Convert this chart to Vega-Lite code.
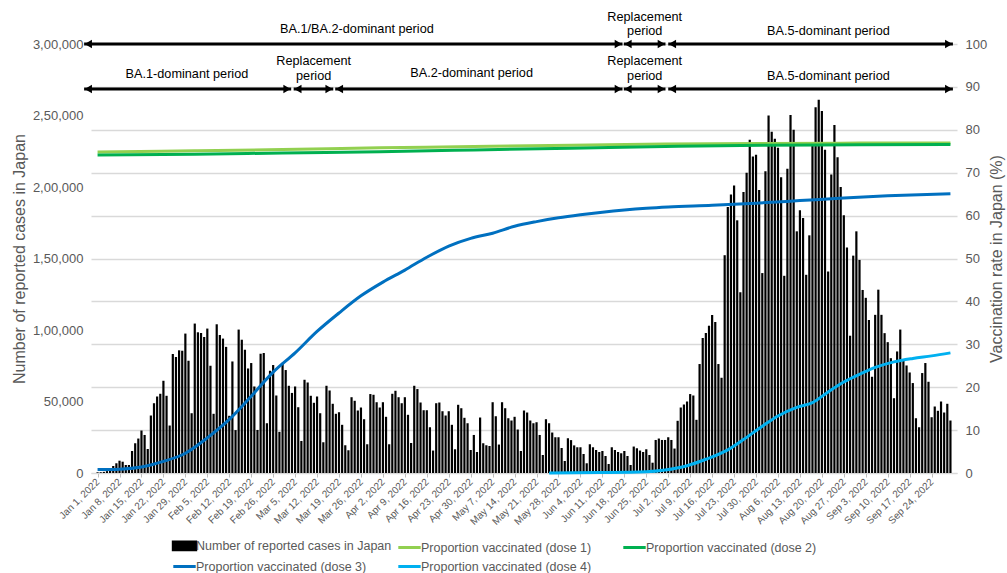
{
  "$schema": "https://vega.github.io/schema/vega-lite/v6.json",
  "width": 866,
  "height": 429,
  "autosize": {"type": "none"},
  "padding": {"left": 91, "top": 44, "right": 50, "bottom": 100},
  "config": {
    "view": {"stroke": null},
    "font": "Liberation Sans",
    "axis": {"labelFont": "Liberation Sans", "titleFont": "Liberation Sans", "titleFontWeight": "normal"},
    "axisX": {"labelOverlap": false},
    "legend": {"labelFont": "Liberation Sans"}
  },
  "datasets": {
    "cases": [
      {"d":"2022-01-01","c":500},{"d":"2022-01-02","c":550},{"d":"2022-01-03","c":800},{"d":"2022-01-04","c":1300},{"d":"2022-01-05","c":2600},{"d":"2022-01-06","c":4900},{"d":"2022-01-07","c":6800},{"d":"2022-01-08","c":8600},{"d":"2022-01-09","c":7900},{"d":"2022-01-10","c":5600},{"d":"2022-01-11","c":5600},{"d":"2022-01-12","c":15400},{"d":"2022-01-13","c":20800},{"d":"2022-01-14","c":24100},{"d":"2022-01-15","c":29700},{"d":"2022-01-16","c":26600},{"d":"2022-01-17","c":16800},{"d":"2022-01-18","c":40200},{"d":"2022-01-19","c":48800},{"d":"2022-01-20","c":53500},{"d":"2022-01-21","c":55400},{"d":"2022-01-22","c":64500},{"d":"2022-01-23","c":54000},{"d":"2022-01-24","c":33200},{"d":"2022-01-25","c":83200},{"d":"2022-01-26","c":81100},{"d":"2022-01-27","c":85800},{"d":"2022-01-28","c":85500},{"d":"2022-01-29","c":97500},{"d":"2022-01-30","c":78500},{"d":"2022-01-31","c":41800},
      {"d":"2022-02-01","c":104500},{"d":"2022-02-02","c":98400},{"d":"2022-02-03","c":97900},{"d":"2022-02-04","c":95100},{"d":"2022-02-05","c":101000},{"d":"2022-02-06","c":75000},{"d":"2022-02-07","c":41400},{"d":"2022-02-08","c":104000},{"d":"2022-02-09","c":96500},{"d":"2022-02-10","c":94000},{"d":"2022-02-11","c":88200},{"d":"2022-02-12","c":40000},{"d":"2022-02-13","c":78000},{"d":"2022-02-14","c":30000},{"d":"2022-02-15","c":100300},{"d":"2022-02-16","c":93200},{"d":"2022-02-17","c":86200},{"d":"2022-02-18","c":73100},{"d":"2022-02-19","c":76900},{"d":"2022-02-20","c":60500},{"d":"2022-02-21","c":30100},{"d":"2022-02-22","c":83400},{"d":"2022-02-23","c":83900},{"d":"2022-02-24","c":34800},{"d":"2022-02-25","c":71500},{"d":"2022-02-26","c":75500},{"d":"2022-02-27","c":54200},{"d":"2022-02-28","c":28800},
      {"d":"2022-03-01","c":77000},{"d":"2022-03-02","c":72000},{"d":"2022-03-03","c":61000},{"d":"2022-03-04","c":56000},{"d":"2022-03-05","c":60500},{"d":"2022-03-06","c":46000},{"d":"2022-03-07","c":22400},{"d":"2022-03-08","c":65200},{"d":"2022-03-09","c":63300},{"d":"2022-03-10","c":54000},{"d":"2022-03-11","c":49100},{"d":"2022-03-12","c":53500},{"d":"2022-03-13","c":41800},{"d":"2022-03-14","c":21500},{"d":"2022-03-15","c":61000},{"d":"2022-03-16","c":57700},{"d":"2022-03-17","c":48400},{"d":"2022-03-18","c":41400},{"d":"2022-03-19","c":42500},{"d":"2022-03-20","c":33700},{"d":"2022-03-21","c":19400},{"d":"2022-03-22","c":15900},{"d":"2022-03-23","c":53000},{"d":"2022-03-24","c":50500},{"d":"2022-03-25","c":43700},{"d":"2022-03-26","c":45800},{"d":"2022-03-27","c":37600},{"d":"2022-03-28","c":20100},{"d":"2022-03-29","c":55200},{"d":"2022-03-30","c":54700},{"d":"2022-03-31","c":49500},
      {"d":"2022-04-01","c":45800},{"d":"2022-04-02","c":49500},{"d":"2022-04-03","c":39300},{"d":"2022-04-04","c":20100},{"d":"2022-04-05","c":55400},{"d":"2022-04-06","c":57500},{"d":"2022-04-07","c":53000},{"d":"2022-04-08","c":48800},{"d":"2022-04-09","c":53000},{"d":"2022-04-10","c":40700},{"d":"2022-04-11","c":21000},{"d":"2022-04-12","c":61000},{"d":"2022-04-13","c":58700},{"d":"2022-04-14","c":49300},{"d":"2022-04-15","c":43900},{"d":"2022-04-16","c":43900},{"d":"2022-04-17","c":32000},{"d":"2022-04-18","c":15700},{"d":"2022-04-19","c":48800},{"d":"2022-04-20","c":49300},{"d":"2022-04-21","c":43200},{"d":"2022-04-22","c":40200},{"d":"2022-04-23","c":43200},{"d":"2022-04-24","c":33700},{"d":"2022-04-25","c":16600},{"d":"2022-04-26","c":47700},{"d":"2022-04-27","c":45300},{"d":"2022-04-28","c":38600},{"d":"2022-04-29","c":34800},{"d":"2022-04-30","c":16100},
      {"d":"2022-05-01","c":26600},{"d":"2022-05-02","c":14700},{"d":"2022-05-03","c":38800},{"d":"2022-05-04","c":20800},{"d":"2022-05-05","c":19400},{"d":"2022-05-06","c":18900},{"d":"2022-05-07","c":49500},{"d":"2022-05-08","c":39700},{"d":"2022-05-09","c":19900},{"d":"2022-05-10","c":49500},{"d":"2022-05-11","c":45300},{"d":"2022-05-12","c":38300},{"d":"2022-05-13","c":36700},{"d":"2022-05-14","c":39300},{"d":"2022-05-15","c":30400},{"d":"2022-05-16","c":15400},{"d":"2022-05-17","c":43700},{"d":"2022-05-18","c":42300},{"d":"2022-05-19","c":36700},{"d":"2022-05-20","c":34800},{"d":"2022-05-21","c":35500},{"d":"2022-05-22","c":26600},{"d":"2022-05-23","c":12600},{"d":"2022-05-24","c":37600},{"d":"2022-05-25","c":34800},{"d":"2022-05-26","c":28300},{"d":"2022-05-27","c":25000},{"d":"2022-05-28","c":25000},{"d":"2022-05-29","c":17500},{"d":"2022-05-30","c":8400},{"d":"2022-05-31","c":24300},
      {"d":"2022-06-01","c":23000},{"d":"2022-06-02","c":19300},{"d":"2022-06-03","c":18000},{"d":"2022-06-04","c":18000},{"d":"2022-06-05","c":13300},{"d":"2022-06-06","c":6800},{"d":"2022-06-07","c":20100},{"d":"2022-06-08","c":18000},{"d":"2022-06-09","c":16100},{"d":"2022-06-10","c":14700},{"d":"2022-06-11","c":15400},{"d":"2022-06-12","c":11900},{"d":"2022-06-13","c":6300},{"d":"2022-06-14","c":18000},{"d":"2022-06-15","c":16100},{"d":"2022-06-16","c":14700},{"d":"2022-06-17","c":13800},{"d":"2022-06-18","c":15400},{"d":"2022-06-19","c":11900},{"d":"2022-06-20","c":5600},{"d":"2022-06-21","c":18500},{"d":"2022-06-22","c":17300},{"d":"2022-06-23","c":15700},{"d":"2022-06-24","c":14700},{"d":"2022-06-25","c":16600},{"d":"2022-06-26","c":12600},{"d":"2022-06-27","c":7200},{"d":"2022-06-28","c":23100},{"d":"2022-06-29","c":24100},{"d":"2022-06-30","c":23100},
      {"d":"2022-07-01","c":23100},{"d":"2022-07-02","c":25000},{"d":"2022-07-03","c":23100},{"d":"2022-07-04","c":17100},{"d":"2022-07-05","c":36500},{"d":"2022-07-06","c":45800},{"d":"2022-07-07","c":47900},{"d":"2022-07-08","c":50000},{"d":"2022-07-09","c":55200},{"d":"2022-07-10","c":54200},{"d":"2022-07-11","c":37200},{"d":"2022-07-12","c":76200},{"d":"2022-07-13","c":94400},{"d":"2022-07-14","c":97900},{"d":"2022-07-15","c":103000},{"d":"2022-07-16","c":110500},{"d":"2022-07-17","c":105600},{"d":"2022-07-18","c":76200},{"d":"2022-07-19","c":66600},{"d":"2022-07-20","c":152300},{"d":"2022-07-21","c":186000},{"d":"2022-07-22","c":194700},{"d":"2022-07-23","c":201000},{"d":"2022-07-24","c":176700},{"d":"2022-07-25","c":126400},{"d":"2022-07-26","c":196500},{"d":"2022-07-27","c":209900},{"d":"2022-07-28","c":233000},{"d":"2022-07-29","c":221300},{"d":"2022-07-30","c":222500},{"d":"2022-07-31","c":197900},
      {"d":"2022-08-01","c":139800},{"d":"2022-08-02","c":211000},{"d":"2022-08-03","c":250000},{"d":"2022-08-04","c":238600},{"d":"2022-08-05","c":233700},{"d":"2022-08-06","c":227400},{"d":"2022-08-07","c":206800},{"d":"2022-08-08","c":137900},{"d":"2022-08-09","c":212700},{"d":"2022-08-10","c":250300},{"d":"2022-08-11","c":240000},{"d":"2022-08-12","c":169000},{"d":"2022-08-13","c":183700},{"d":"2022-08-14","c":178300},{"d":"2022-08-15","c":138600},{"d":"2022-08-16","c":166200},{"d":"2022-08-17","c":229000},{"d":"2022-08-18","c":255700},{"d":"2022-08-19","c":261000},{"d":"2022-08-20","c":253100},{"d":"2022-08-21","c":226000},{"d":"2022-08-22","c":140900},{"d":"2022-08-23","c":208700},{"d":"2022-08-24","c":243300},{"d":"2022-08-25","c":220800},{"d":"2022-08-26","c":200000},{"d":"2022-08-27","c":180200},{"d":"2022-08-28","c":157700},{"d":"2022-08-29","c":96000},{"d":"2022-08-30","c":152000},{"d":"2022-08-31","c":169000},
      {"d":"2022-09-01","c":149000},{"d":"2022-09-02","c":128000},{"d":"2022-09-03","c":122500},{"d":"2022-09-04","c":107000},{"d":"2022-09-05","c":67300},{"d":"2022-09-06","c":110600},{"d":"2022-09-07","c":128200},{"d":"2022-09-08","c":110600},{"d":"2022-09-09","c":97800},{"d":"2022-09-10","c":91500},{"d":"2022-09-11","c":80300},{"d":"2022-09-12","c":52300},{"d":"2022-09-13","c":85000},{"d":"2022-09-14","c":100300},{"d":"2022-09-15","c":79700},{"d":"2022-09-16","c":75200},{"d":"2022-09-17","c":70300},{"d":"2022-09-18","c":62900},{"d":"2022-09-19","c":38300},{"d":"2022-09-20","c":32000},{"d":"2022-09-21","c":69900},{"d":"2022-09-22","c":76900},{"d":"2022-09-23","c":63800},{"d":"2022-09-24","c":39000},{"d":"2022-09-25","c":46500},{"d":"2022-09-26","c":43500},{"d":"2022-09-27","c":50000},{"d":"2022-09-28","c":42300},{"d":"2022-09-29","c":48400},{"d":"2022-09-30","c":36700}
    ],
    "vax": [
      {"d":"2022-01-01","s":"Proportion vaccinated (dose 1)","p":74.8},{"d":"2022-02-01","s":"Proportion vaccinated (dose 1)","p":75.1},{"d":"2022-03-01","s":"Proportion vaccinated (dose 1)","p":75.4},{"d":"2022-04-01","s":"Proportion vaccinated (dose 1)","p":75.8},{"d":"2022-05-01","s":"Proportion vaccinated (dose 1)","p":76.1},{"d":"2022-06-01","s":"Proportion vaccinated (dose 1)","p":76.4},{"d":"2022-07-01","s":"Proportion vaccinated (dose 1)","p":76.7},{"d":"2022-08-01","s":"Proportion vaccinated (dose 1)","p":76.8},{"d":"2022-09-01","s":"Proportion vaccinated (dose 1)","p":76.9},{"d":"2022-09-30","s":"Proportion vaccinated (dose 1)","p":76.9},
      {"d":"2022-01-01","s":"Proportion vaccinated (dose 2)","p":74.1},{"d":"2022-02-01","s":"Proportion vaccinated (dose 2)","p":74.3},{"d":"2022-03-01","s":"Proportion vaccinated (dose 2)","p":74.6},{"d":"2022-04-01","s":"Proportion vaccinated (dose 2)","p":74.9},{"d":"2022-05-01","s":"Proportion vaccinated (dose 2)","p":75.3},{"d":"2022-06-01","s":"Proportion vaccinated (dose 2)","p":75.7},{"d":"2022-07-01","s":"Proportion vaccinated (dose 2)","p":76.1},{"d":"2022-08-01","s":"Proportion vaccinated (dose 2)","p":76.4},{"d":"2022-09-01","s":"Proportion vaccinated (dose 2)","p":76.5},{"d":"2022-09-30","s":"Proportion vaccinated (dose 2)","p":76.6},
      {"d":"2022-01-01","s":"Proportion vaccinated (dose 3)","p":0.8},{"d":"2022-01-08","s":"Proportion vaccinated (dose 3)","p":0.9},{"d":"2022-01-15","s":"Proportion vaccinated (dose 3)","p":1.4},{"d":"2022-01-22","s":"Proportion vaccinated (dose 3)","p":2.7},{"d":"2022-01-29","s":"Proportion vaccinated (dose 3)","p":4.6},{"d":"2022-02-05","s":"Proportion vaccinated (dose 3)","p":8.2},{"d":"2022-02-12","s":"Proportion vaccinated (dose 3)","p":12.5},{"d":"2022-02-19","s":"Proportion vaccinated (dose 3)","p":17.9},{"d":"2022-02-26","s":"Proportion vaccinated (dose 3)","p":23.5},{"d":"2022-03-05","s":"Proportion vaccinated (dose 3)","p":28.0},{"d":"2022-03-12","s":"Proportion vaccinated (dose 3)","p":33.0},{"d":"2022-03-19","s":"Proportion vaccinated (dose 3)","p":37.3},{"d":"2022-03-26","s":"Proportion vaccinated (dose 3)","p":41.3},{"d":"2022-04-02","s":"Proportion vaccinated (dose 3)","p":44.5},{"d":"2022-04-09","s":"Proportion vaccinated (dose 3)","p":47.3},{"d":"2022-04-16","s":"Proportion vaccinated (dose 3)","p":50.3},{"d":"2022-04-23","s":"Proportion vaccinated (dose 3)","p":52.9},{"d":"2022-04-30","s":"Proportion vaccinated (dose 3)","p":54.7},{"d":"2022-05-07","s":"Proportion vaccinated (dose 3)","p":55.9},{"d":"2022-05-14","s":"Proportion vaccinated (dose 3)","p":57.5},{"d":"2022-05-21","s":"Proportion vaccinated (dose 3)","p":58.6},{"d":"2022-05-28","s":"Proportion vaccinated (dose 3)","p":59.5},{"d":"2022-06-04","s":"Proportion vaccinated (dose 3)","p":60.2},{"d":"2022-06-11","s":"Proportion vaccinated (dose 3)","p":60.8},{"d":"2022-06-18","s":"Proportion vaccinated (dose 3)","p":61.3},{"d":"2022-06-25","s":"Proportion vaccinated (dose 3)","p":61.7},{"d":"2022-07-02","s":"Proportion vaccinated (dose 3)","p":62.0},{"d":"2022-07-16","s":"Proportion vaccinated (dose 3)","p":62.4},{"d":"2022-07-30","s":"Proportion vaccinated (dose 3)","p":62.9},{"d":"2022-08-13","s":"Proportion vaccinated (dose 3)","p":63.5},{"d":"2022-08-27","s":"Proportion vaccinated (dose 3)","p":64.1},{"d":"2022-09-10","s":"Proportion vaccinated (dose 3)","p":64.6},{"d":"2022-09-30","s":"Proportion vaccinated (dose 3)","p":65.1},
      {"d":"2022-05-25","s":"Proportion vaccinated (dose 4)","p":0.0},{"d":"2022-06-10","s":"Proportion vaccinated (dose 4)","p":0.1},{"d":"2022-06-25","s":"Proportion vaccinated (dose 4)","p":0.3},{"d":"2022-07-01","s":"Proportion vaccinated (dose 4)","p":0.7},{"d":"2022-07-08","s":"Proportion vaccinated (dose 4)","p":1.7},{"d":"2022-07-14","s":"Proportion vaccinated (dose 4)","p":3.2},{"d":"2022-07-21","s":"Proportion vaccinated (dose 4)","p":5.4},{"d":"2022-07-26","s":"Proportion vaccinated (dose 4)","p":7.8},{"d":"2022-08-01","s":"Proportion vaccinated (dose 4)","p":10.9},{"d":"2022-08-06","s":"Proportion vaccinated (dose 4)","p":13.3},{"d":"2022-08-12","s":"Proportion vaccinated (dose 4)","p":15.3},{"d":"2022-08-17","s":"Proportion vaccinated (dose 4)","p":16.4},{"d":"2022-08-22","s":"Proportion vaccinated (dose 4)","p":18.9},{"d":"2022-08-27","s":"Proportion vaccinated (dose 4)","p":21.2},{"d":"2022-09-01","s":"Proportion vaccinated (dose 4)","p":23.0},{"d":"2022-09-06","s":"Proportion vaccinated (dose 4)","p":24.6},{"d":"2022-09-12","s":"Proportion vaccinated (dose 4)","p":25.9},{"d":"2022-09-18","s":"Proportion vaccinated (dose 4)","p":26.7},{"d":"2022-09-24","s":"Proportion vaccinated (dose 4)","p":27.3},{"d":"2022-09-30","s":"Proportion vaccinated (dose 4)","p":28.0}
    ],
    "arrows": [
      {"d":"2021-12-27T17:00:00Z","e":"2022-06-17T10:00:00Z","y":100},
      {"d":"2022-06-17T20:00:00Z","e":"2022-07-01T03:00:00Z","y":100},
      {"d":"2022-07-02T00:00:00Z","e":"2022-09-30T19:00:00Z","y":100},
      {"d":"2021-12-27T17:00:00Z","e":"2022-03-03T18:00:00Z","y":89.5},
      {"d":"2022-03-04T13:00:00Z","e":"2022-03-17T04:00:00Z","y":89.5},
      {"d":"2022-03-17T19:00:00Z","e":"2022-06-17T10:00:00Z","y":89.5},
      {"d":"2022-06-17T20:00:00Z","e":"2022-07-01T03:00:00Z","y":89.5},
      {"d":"2022-07-02T00:00:00Z","e":"2022-09-30T19:00:00Z","y":89.5}
    ],
    "arrowEnds": [
      {"d":"2022-06-17T10:00:00Z","y":100},
      {"d":"2022-07-01T03:00:00Z","y":100},
      {"d":"2022-09-30T19:00:00Z","y":100},
      {"d":"2022-03-03T18:00:00Z","y":89.5},
      {"d":"2022-03-17T04:00:00Z","y":89.5},
      {"d":"2022-06-17T10:00:00Z","y":89.5},
      {"d":"2022-07-01T03:00:00Z","y":89.5},
      {"d":"2022-09-30T19:00:00Z","y":89.5}
    ],
    "labels": [
      {"d":"2022-03-24T17:00:00Z","y":103.5,"t":"BA.1/BA.2-dominant period"},
      {"d":"2022-06-24T12:00:00Z","y":106.3,"t":"Replacement\nperiod"},
      {"d":"2022-08-22T02:00:00Z","y":103.0,"t":"BA.5-dominant period"},
      {"d":"2022-01-29T12:00:00Z","y":93.0,"t":"BA.1-dominant period"},
      {"d":"2022-03-10T22:00:00Z","y":96.0,"t":"Replacement\nperiod"},
      {"d":"2022-04-30T07:00:00Z","y":93.2,"t":"BA.2-dominant period"},
      {"d":"2022-06-24T12:00:00Z","y":96.0,"t":"Replacement\nperiod"},
      {"d":"2022-08-22T02:00:00Z","y":92.6,"t":"BA.5-dominant period"}
    ]
  },
  "encoding": {
    "x": {
      "field": "d", "type": "temporal", "title": null,
      "scale": {"type": "utc", "domain": [1640952000000, 1664539200000]},
      "axis": {
        "values": [1640995200000,1641600000000,1642204800000,1642809600000,1643414400000,1644019200000,1644624000000,1645228800000,1645833600000,1646438400000,1647043200000,1647648000000,1648252800000,1648857600000,1649462400000,1650067200000,1650672000000,1651276800000,1651881600000,1652486400000,1653091200000,1653696000000,1654300800000,1654905600000,1655510400000,1656115200000,1656720000000,1657324800000,1657929600000,1658534400000,1659139200000,1659744000000,1660348800000,1660953600000,1661558400000,1662163200000,1662768000000,1663372800000,1663977600000],
        "format": "%b %-d, %Y",
        "labelAngle": -45, "labelAlign": "right", "labelBaseline": "middle",
        "labelFontSize": 10, "labelColor": "#595959", "labelOverlap": false, "labelPadding": 3,
        "tickSize": 4, "tickColor": "#bfbfbf", "domainColor": "#d9d9d9", "grid": false, "title": null
      }
    }
  },
  "layer": [
    {
      "data": {"name": "cases"},
      "mark": {"type": "bar", "width": 2.2},
      "encoding": {
        "y": {
          "field": "c", "type": "quantitative",
          "scale": {"domain": [0, 300000]},
          "axis": {
            "values": [0, 50000, 100000, 150000, 200000, 250000, 300000],
            "labelExpr": "datum.value >= 100000 ? floor(datum.value / 100000) + ',' + format((datum.value % 100000) / 1000, '02d') + ',000' : format(datum.value, ',')",
            "grid": false, "domain": false, "ticks": false,
            "labelColor": "#595959", "labelFontSize": 13, "labelPadding": 8,
            "title": "Number of reported cases in Japan", "titleColor": "#595959", "titleFontSize": 16, "titlePadding": 5
          }
        },
        "color": {
          "datum": "Number of reported cases in Japan",
          "scale": {
            "domain": ["Number of reported cases in Japan", "Proportion vaccinated (dose 1)", "Proportion vaccinated (dose 2)", "Proportion vaccinated (dose 3)", "Proportion vaccinated (dose 4)"],
            "range": ["#000000", "#92D050", "#00B050", "#0070C0", "#00B0F0"]
          },
          "legend": {
            "orient": "none", "legendX": 85, "legendY": 493, "columns": 3, "direction": "horizontal", "title": null,
            "symbolSize": 196, "labelFontSize": 12.5, "labelColor": "#595959", "labelOffset": 3,
            "columnPadding": 0, "rowPadding": 2, "gridAlign": "all", "labelLimit": 300, "padding": 0,
            "encode": {
              "symbols": {
                "update": {
                  "shape": {"signal": "datum.value === 'Number of reported cases in Japan' ? 'M-1.6,-0.55H1.6V0.55H-1.6Z' : 'M-1.6,0H1.6'"},
                  "fill": {"signal": "datum.value === 'Number of reported cases in Japan' ? '#000000' : 'transparent'"},
                  "stroke": {"signal": "datum.value === 'Number of reported cases in Japan' ? 'transparent' : scale('color', datum.value)"},
                  "strokeWidth": {"value": 3},
                  "opacity": {"value": 1}
                }
              }
            }
          }
        }
      }
    },
    {
      "data": {"name": "vax"},
      "mark": {"type": "line", "strokeWidth": 3, "interpolate": "monotone"},
      "encoding": {
        "y": {
          "field": "p", "type": "quantitative",
          "scale": {"domain": [0, 100]},
          "axis": {
            "orient": "right", "values": [0,10,20,30,40,50,60,70,80,90,100],
            "grid": true, "gridColor": "#d9d9d9", "gridWidth": 1.3, "domain": false, "ticks": false,
            "labelColor": "#595959", "labelFontSize": 13, "labelPadding": 8,
            "title": "Vaccination rate in Japan (%)", "titleColor": "#595959", "titleFontSize": 16, "titleAngle": 270, "titlePadding": 18
          }
        },
        "color": {"field": "s", "type": "nominal", "title": null}
      }
    },
    {
      "data": {"name": "arrows"},
      "mark": {"type": "rule", "strokeWidth": 3, "color": "#000000"},
      "encoding": {
        "x2": {"field": "e"},
        "y": {"field": "y", "type": "quantitative", "scale": {"domain": [0, 100]}, "axis": null}
      }
    },
    {
      "data": {"name": "arrows"},
      "mark": {"type": "point", "shape": "triangle-left", "filled": true, "size": 70, "xOffset": 4.2, "color": "#000000", "opacity": 1},
      "encoding": {
        "y": {"field": "y", "type": "quantitative", "scale": {"domain": [0, 100]}, "axis": null}
      }
    },
    {
      "data": {"name": "arrowEnds"},
      "mark": {"type": "point", "shape": "triangle-right", "filled": true, "size": 70, "xOffset": -4.2, "color": "#000000", "opacity": 1},
      "encoding": {
        "y": {"field": "y", "type": "quantitative", "scale": {"domain": [0, 100]}, "axis": null}
      }
    },
    {
      "data": {"name": "labels"},
      "mark": {"type": "text", "font": "Liberation Sans", "fontSize": 12.7, "color": "#000000", "align": "center", "baseline": "middle", "lineBreak": "\n", "lineHeight": 14.5},
      "encoding": {
        "y": {"field": "y", "type": "quantitative", "scale": {"domain": [0, 100]}, "axis": null},
        "text": {"field": "t"}
      }
    }
  ],
  "resolve": {"scale": {"y": "independent"}}
}
